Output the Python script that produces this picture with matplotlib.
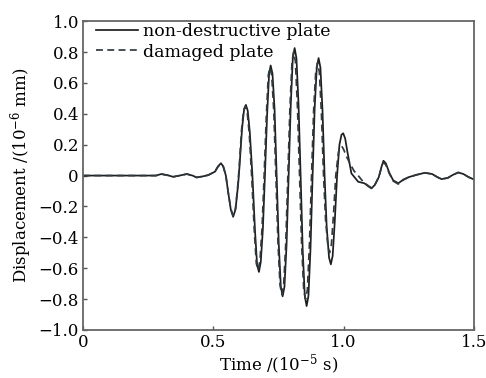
import matplotlib
matplotlib.use("Agg")
import matplotlib.pyplot as plt

plt.rcParams['font.family'] = ['DejaVu Serif']
plt.rcParams['mathtext.fontset'] = 'dejavuserif'

# Time (10^-5 s) and displacement (10^-6 mm)
t_intact = [0.0, 0.28, 0.30, 0.325, 0.346, 0.37, 0.398, 0.42, 0.436, 0.46, 0.48, 0.506,
            0.518, 0.529, 0.538, 0.548, 0.558, 0.567, 0.576, 0.585, 0.595, 0.600, 0.610,
            0.618, 0.625, 0.632, 0.640, 0.650, 0.660, 0.668, 0.675, 0.682, 0.690, 0.698,
            0.706, 0.714, 0.720, 0.727, 0.735, 0.743, 0.751, 0.759, 0.766, 0.773, 0.781,
            0.789, 0.797, 0.805, 0.812, 0.819, 0.827, 0.835, 0.843, 0.851, 0.858, 0.865,
            0.873, 0.881, 0.889, 0.897, 0.904, 0.911, 0.919, 0.927, 0.935, 0.944, 0.951,
            0.958, 0.966, 0.975, 0.984, 0.992, 0.9985, 1.006, 1.015, 1.030, 1.056, 1.080,
            1.095, 1.107, 1.120, 1.135, 1.146, 1.153, 1.162, 1.175, 1.190, 1.210, 1.230,
            1.250, 1.280, 1.312, 1.340, 1.360, 1.376, 1.400, 1.420, 1.440, 1.460, 1.480, 1.500]
y_intact = [0.0, 0.0, 0.01, 0.002, -0.008, 0.0, 0.01, 0.0, -0.012, -0.005, 0.003, 0.025,
            0.06, 0.08, 0.06, 0.0, -0.12, -0.22, -0.267, -0.22, -0.06, 0.05, 0.30,
            0.43, 0.458, 0.42, 0.28, 0.0, -0.36, -0.58, -0.624, -0.56, -0.35, 0.0,
            0.38, 0.66, 0.713, 0.66, 0.43, 0.0, -0.44, -0.72, -0.782, -0.72, -0.45,
            0.0, 0.45, 0.76, 0.826, 0.76, 0.46, 0.0, -0.48, -0.78, -0.845, -0.78,
            -0.47, 0.0, 0.44, 0.70, 0.761, 0.70, 0.42, 0.0, -0.33, -0.53, -0.575,
            -0.52, -0.30, 0.0, 0.20, 0.265, 0.274, 0.24, 0.15, 0.014, -0.04, -0.05,
            -0.07, -0.083, -0.06, -0.01, 0.06, 0.096, 0.08, 0.02, -0.03, -0.05, -0.025,
            -0.01, 0.005, 0.018, 0.01, -0.01, -0.023, -0.015, 0.005, 0.02, 0.01, -0.01, -0.025]

t_damaged = [0.0, 0.28, 0.30, 0.325, 0.346, 0.37, 0.398, 0.42, 0.436, 0.46, 0.48, 0.506,
             0.518, 0.529, 0.538, 0.548, 0.558, 0.567, 0.576, 0.585, 0.594, 0.599, 0.608,
             0.616, 0.623, 0.630, 0.638, 0.647, 0.657, 0.665, 0.672, 0.679, 0.687, 0.695,
             0.703, 0.711, 0.717, 0.724, 0.732, 0.740, 0.748, 0.756, 0.763, 0.770, 0.778,
             0.786, 0.794, 0.802, 0.808, 0.815, 0.823, 0.831, 0.839, 0.847, 0.854, 0.861,
             0.869, 0.877, 0.885, 0.893, 0.900, 0.907, 0.915, 0.923, 0.931, 0.940, 0.946,
             0.953, 0.961, 0.970, 0.980, 0.987, 0.993, 1.000, 1.012, 1.024, 1.040, 1.056,
             1.075, 1.090, 1.107, 1.120, 1.135, 1.146, 1.153, 1.162, 1.175, 1.190, 1.210,
             1.230, 1.250, 1.280, 1.312, 1.340, 1.360, 1.376, 1.400, 1.420, 1.440, 1.460,
             1.480, 1.500]
y_damaged = [0.0, 0.0, 0.01, 0.002, -0.008, 0.0, 0.01, 0.0, -0.012, -0.005, 0.003, 0.025,
             0.058, 0.075, 0.058, 0.0, -0.12, -0.215, -0.26, -0.215, -0.06, 0.05, 0.29,
             0.42, 0.45, 0.41, 0.27, 0.0, -0.35, -0.57, -0.61, -0.55, -0.34, 0.0,
             0.37, 0.65, 0.70, 0.65, 0.42, 0.0, -0.43, -0.71, -0.77, -0.71, -0.44,
             0.0, 0.44, 0.74, 0.80, 0.74, 0.44, 0.0, -0.45, -0.74, -0.80, -0.74,
             -0.44, 0.0, 0.42, 0.67, 0.73, 0.67, 0.40, 0.0, -0.29, -0.46, -0.50,
             -0.45, -0.26, 0.0, 0.15, 0.185, 0.19, 0.17, 0.12, 0.08, 0.03, 0.0,
             -0.04, -0.06, -0.08, -0.06, -0.01, 0.055, 0.085, 0.07, 0.015, -0.035, -0.055,
             -0.028, -0.01, 0.005, 0.018, 0.01, -0.01, -0.023, -0.015, 0.005, 0.02, 0.01,
             -0.01, -0.025]

x_ticks = [0, 0.5, 1.0, 1.5]
x_ticklabels = ['0', '0.5', '1.0', '1.5']
y_ticks = [1.0, 0.8, 0.6, 0.4, 0.2, 0.0, -0.2, -0.4, -0.6, -0.8, -1.0]
y_ticklabels = ['1.0', '0.8', '0.6', '0.4', '0.2', '0', '\u22120.2', '\u22120.4',
                '\u22120.6', '\u22120.8', '\u22121.0']

fig = plt.figure(figsize=(4.86, 3.78), dpi=100)
ax = fig.add_axes([0.171, 0.127, 0.804, 0.817])

ax.plot(t_intact, y_intact, color='#1e1e1e', lw=1.25, ls='-', label='non-destructive plate')
ax.plot(t_damaged, y_damaged, color='#2f3a40', lw=1.25, ls=(0, (4, 2.5)), label='damaged plate')

ax.set_xlim(0, 1.5)
ax.set_ylim(-1.0, 1.0)
ax.set_xticks(x_ticks)
ax.set_xticklabels(x_ticklabels)
ax.set_yticks(y_ticks)
ax.set_yticklabels(y_ticklabels)
ax.tick_params(direction='in', length=3, width=1.0, color='#555555', labelsize=12,
               pad=3, top=False, right=False)

for s in ax.spines.values():
    s.set_color('#666666')
    s.set_linewidth(1.3)

ax.set_xlabel('Time /(10$^{-5}$ s)', fontsize=12, labelpad=1)
ax.set_ylabel('Displacement /(10$^{-6}$ mm)', fontsize=12, labelpad=3)

ax.legend(loc='upper left', bbox_to_anchor=(0.025, 1.005), frameon=False, fontsize=12.5,
          handlelength=2.4, handletextpad=0.3, borderaxespad=0.0, borderpad=0.2,
          labelspacing=0.2)

fig.savefig('out.png', dpi=100)
